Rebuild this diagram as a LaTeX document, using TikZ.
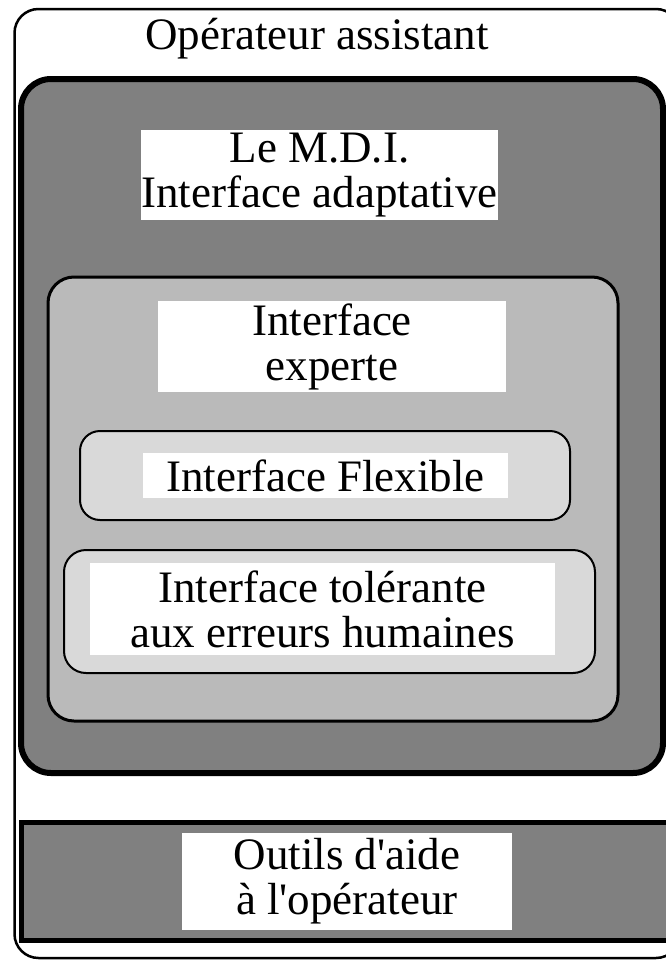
\documentclass[tikz,border=0pt]{standalone}
\usepackage{fontspec}
\setmainfont{Liberation Serif}
\begin{document}
\begin{tikzpicture}[x=1pt,y=-1pt,
  lbl/.style={fill=white,inner sep=0pt,align=center,font=\fontsize{45}{45}\selectfont},
  darkfill/.style={fill=black!50},
  midfill/.style={fill=black!27},
  lightfill/.style={fill=black!15}]
\useasboundingbox (0,0) rectangle (666,961);
% outer box
\draw[line width=2.5pt,rounded corners=24pt,fill=white] (14.5,9) rectangle (680,958);
\node[lbl,fill=none] (titre) at (317,39) {Opérateur assistant};
% M.D.I. box
\draw[line width=6pt,rounded corners=30pt,darkfill] (21,79) rectangle (663,773);
\node[lbl,minimum width=357pt,minimum height=90pt] (mdi) at (319.5,175) {Le M.D.I.\\Interface adaptative};
% experte box
\draw[line width=3pt,rounded corners=26pt,midfill] (48,277) rectangle (618,721);
\node[lbl,minimum width=348pt,minimum height=91pt] (experte) at (332,346.5) {Interface\\experte};
% flexible
\draw[line width=2pt,rounded corners=20pt,lightfill] (80,431) rectangle (570,520);
\node[lbl,minimum width=365pt,minimum height=45pt] (flex) at (325.5,475.5) {Interface Flexible};
% tolerant
\draw[line width=2pt,rounded corners=22pt,lightfill] (64,550) rectangle (595,673);
\node[lbl,minimum width=465pt,minimum height=92pt] (tol) at (322.5,609) {Interface tolérante\\aux erreurs humaines};
% bottom box
\draw[line width=5pt,darkfill] (21,822) rectangle (680,940);
\node[lbl,minimum width=330pt,minimum height=97pt] (outils) at (347,881.5) {Outils d\textquotesingle aide\\à l\textquotesingle opérateur};
\end{tikzpicture}
\end{document}
